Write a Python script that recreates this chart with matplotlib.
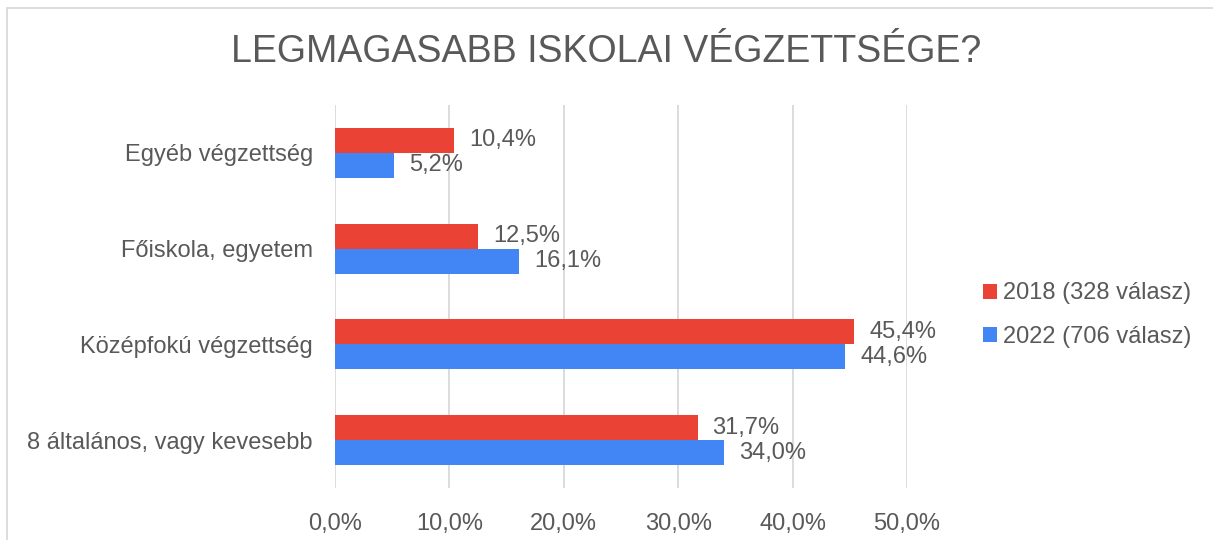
import numpy as np
import matplotlib.pyplot as plt
import matplotlib as mpl
from matplotlib.patches import Rectangle

mpl.rcParams['font.family'] = ['Liberation Sans', 'DejaVu Sans']

# data
categories = ['Egyéb végzettség', 'Főiskola, egyetem', 'Középfokú végzettség', '8 általános, vagy kevesebb']
v2018 = [10.4, 12.5, 45.4, 31.7]
v2022 = [5.2, 16.1, 44.6, 34.0]
series_names = ['2018 (328 válasz)', '2022 (706 válasz)']
xticks = [0, 10, 20, 30, 40, 50]

red = '#EA4335'
blue = '#4285F4'
txt = '#595959'
grid = '#D9D9D9'

fig = plt.figure(figsize=(12.13, 5.40), dpi=100)
ax = fig.add_axes([335/1213, 1 - 488/540, (907-335)/1213, (488-105)/540])

y = np.arange(len(categories))
bh = 0.26
b1 = ax.barh(y - bh/2, v2018, height=bh, color=red, label=series_names[0], zorder=3)
b2 = ax.barh(y + bh/2, v2022, height=bh, color=blue, label=series_names[1], zorder=3)

for bars, vals in [(b1, v2018), (b2, v2022)]:
    for b, v in zip(bars, vals):
        ax.text(v + 1.3, b.get_y() + b.get_height()/2, f'{v:.1f}%'.replace('.', ','),
                va='center', ha='left', fontsize=17, color=txt)

ax.set_ylim(len(categories) - 0.5, -0.5)
ax.set_xlim(0, 50)
ax.set_yticks(y)
ax.set_yticklabels(categories, fontsize=17, color=txt)
ax.set_xticks(xticks)
ax.set_xticklabels([f'{t:.1f}%'.replace('.', ',') for t in xticks], fontsize=17, color=txt)
ax.tick_params(length=0)
ax.tick_params(axis='y', pad=16)
ax.tick_params(axis='x', pad=18)
ax.xaxis.grid(True, color=grid, linewidth=1.3, zorder=0)
for s in ax.spines.values():
    s.set_visible(False)

fig.text(0.5, 1 - 52/540, 'LEGMAGASABB ISKOLAI VÉGZETTSÉGE?', ha='center', va='center',
         fontsize=27, color=txt)

leg = fig.legend(handles=[b1, b2], loc='center left', bbox_to_anchor=(962/1213, 1 - 315/540),
                 frameon=False, fontsize=17, handlelength=0.6, handleheight=0.6,
                 handletextpad=0.25, labelspacing=0.9)
for t in leg.get_texts():
    t.set_color(txt)

# chart border
fig.add_artist(Rectangle((7/1213, -0.1), 1.2, 1 - 8/540 + 0.1, transform=fig.transFigure,
                         fill=False, edgecolor='#D9D9D9', linewidth=1.3))

fig.savefig('out.png', dpi=100)
